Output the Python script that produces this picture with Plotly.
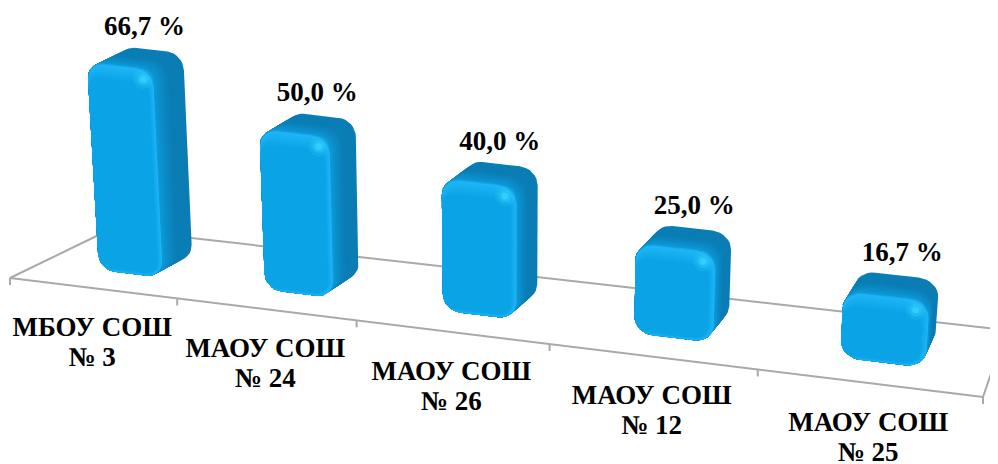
import numpy as np
import plotly.graph_objects as go

categories = ["МБОУ СОШ", "МАОУ СОШ", "МАОУ СОШ", "МАОУ СОШ", "МАОУ СОШ"]
school_numbers = ["№ 3", "№ 24", "№ 26", "№ 12", "№ 25"]
values = [66.7, 50.0, 40.0, 25.0, 16.7]
value_labels = ["66,7 %", "50,0 %", "40,0 %", "25,0 %", "16,7 %"]

# Floor corners of the 3D box as drawn on the page, and the vertical scale
C00, C10, C01, C11 = (10, 278), (983, 397), (111, 229), (1006, 330)
PX_PER_UNIT, AXIS_MIN = 2.82, -7.1
N = len(values)
K = 0.9564
BODY_MARGIN = 8  # the page's default body margin; the figure is sized to fit inside it
LIFT = 8         # bars and labels stand this far right of and below the plain floor projection

dx1, dy1 = C10[0] - C11[0], C10[1] - C11[1]
dx2, dy2 = C01[0] - C11[0], C01[1] - C11[1]
sx, sy = C00[0] - C10[0] + C11[0] - C01[0], C00[1] - C10[1] + C11[1] - C01[1]
det = dx1 * dy2 - dy1 * dx2
G = (sx * dy2 - sy * dx2) / det
H_ = (dx1 * sy - dy1 * sx) / det


def project(s, d, h=0.0, off=0.0):
    """(position along the category axis 0..1, depth 0..1, height px) to page."""
    s = np.asarray(s, float)
    d = np.asarray(d, float) * np.ones_like(s)
    h = np.asarray(h, float) * np.ones_like(s)
    u = K * s / (1 + (K - 1) * s)
    w = 1 + G * u + H_ * d
    x = (C00[0] + (C10[0] - C00[0] + G * C10[0]) * u + (C01[0] - C00[0] + H_ * C01[0]) * d) / w
    y = (C00[1] + (C10[1] - C00[1] + G * C10[1]) * u + (C01[1] - C00[1] + H_ * C01[1]) * d) / w
    return x + 0.00014 * (x - 500) * h + off, y - h + off


def rounded(s0, s1, h0, h1, rs, rh):
    t = np.linspace(0, np.pi / 2, 9)
    ss = np.concatenate([s1 - rs + rs * np.cos(t), s0 + rs - rs * np.sin(t),
                         s0 + rs - rs * np.cos(t), s1 - rs + rs * np.sin(t)])
    hh = np.concatenate([h1 - rh + rh * np.sin(t), h1 - rh + rh * np.cos(t),
                         h0 + rh - rh * np.sin(t), h0 + rh - rh * np.cos(t)])
    return ss, hh


def hull(x, y):
    pts = sorted(set(zip(np.round(x, 3).tolist(), np.round(y, 3).tolist())))

    def half(points):
        out = []
        for p in points:
            while len(out) > 1 and ((out[-1][0] - out[-2][0]) * (p[1] - out[-2][1])
                                    - (out[-1][1] - out[-2][1]) * (p[0] - out[-2][0])) <= 0:
                out.pop()
            out.append(p)
        return out[:-1]

    ring = half(pts) + half(pts[::-1])
    ring.append(ring[0])
    return [p[0] for p in ring], [p[1] for p in ring]


def mix(a, b, t):
    ca = [int(a[j:j + 2], 16) for j in (1, 3, 5)]
    cb = [int(b[j:j + 2], 16) for j in (1, 3, 5)]
    return "#%02x%02x%02x" % tuple(round(p + (q - p) * t) for p, q in zip(ca, cb))


fig = go.Figure()


def poly(x, y, color):
    fig.add_trace(go.Scatter(x=list(x), y=list(y), mode="lines", fill="toself", fillcolor=color,
                             line=dict(width=0, color=color), hoverinfo="skip", showlegend=False))


def line(x, y):
    fig.add_trace(go.Scatter(x=list(x), y=list(y), mode="lines", hoverinfo="skip", showlegend=False,
                             line=dict(color="#a9a9a9", width=2)))


# Floor of the chart
for pts in [((0, 1), (1, 1)), ((0, 0), (0, 1)), ((1, 0), (1, 1)), ((0, 0), (1, 0))]:
    x, y = project([pts[0][0], pts[1][0]], [pts[0][1], pts[1][1]])
    line(x, y)
for i in range(N + 1):
    x, y = project([i / N], [0])
    line([x[0], x[0]], [y[0], y[0] + 7])

CELL = 1 / N
WIDTH = 0.395 * CELL
D0, D1 = 0.40, 0.72
RS, RH = 0.019, 17

for i, v in enumerate(values):
    c = (i + 0.5) * CELL * 1.006 - 0.0125
    s0, s1 = c - WIDTH / 2, c + WIDTH / 2
    H = PX_PER_UNIT * (v - AXIS_MIN)

    ss, hh = rounded(s0, s1, 0, H, RS, RH)
    fx, fy = project(ss, D0, hh, LIFT)

    # Side and top: dark at the back, easing into the front face
    for t in np.linspace(0, 1, 14):
        d = D1 + (D0 + 0.015 - D1) * t
        col = mix("#0a7db5", "#0d9ada", max(0.0, (t - 0.45) / 0.55) ** 1.3)
        bx, by = project(ss, d, hh, LIFT)
        poly(*hull(np.r_[fx, bx], np.r_[fy, by]), col)

    # Front face: bright rim, then insets towards the flat face colour
    poly(fx, fy, "#15a8e8")
    for t in np.linspace(0, 1, 8):
        ins, inh = rounded(s0 + 0.0004, s1 - 0.006 * t, 3 * t,
                           H - 1 - 14 * t, RS * (1 - 0.3 * t), RH * (1 - 0.3 * t))
        ix, iy = project(ins, D0, inh, LIFT)
        poly(ix, iy, mix("#1db5f5", "#0aa3e6", t))

    # Specular spot on the upper right corner of the front face
    hx, hy = project([s1 - 0.012], [D0], [H - 11], LIFT)
    for size, op in [(20, 0.18), (13, 0.35), (7, 0.8)]:
        fig.add_trace(go.Scatter(x=hx, y=hy, mode="markers", hoverinfo="skip", showlegend=False,
                                 marker=dict(size=size, color="#35d2ff", opacity=op, line=dict(width=0))))

# Value labels above the bars
lx, ly = [], []
for i, v in enumerate(values):
    h = PX_PER_UNIT * (v - AXIS_MIN)
    x, _ = project([(i + 0.5) * CELL], [0.5], [h], LIFT)
    _, y = project([(i + 0.5) * CELL], [0.67], [h], LIFT)
    lx.append(x[0] + 5)
    ly.append(y[0] - 25)
fig.add_trace(go.Scatter(x=lx, y=ly, mode="text", text=[f"<b>{t}</b>" for t in value_labels],
                         textposition="middle center", hoverinfo="skip", showlegend=False, cliponaxis=False,
                         textfont=dict(family="Liberation Serif", size=27, color="#000000")))

# Category labels under the floor, two lines each
tx, ty = project([(i + 0.5) * CELL for i in range(N)], [0] * N, 0.0, LIFT)
for labels, dy in [(categories, 33), (school_numbers, 63)]:
    fig.add_trace(go.Scatter(x=tx - 8, y=ty + dy, mode="text", text=[f"<b>{t}</b>" for t in labels],
                             textposition="middle center", hoverinfo="skip", showlegend=False, cliponaxis=False,
                             textfont=dict(family="Liberation Serif", size=27, color="#000000")))

fig.update_layout(width=998 - BODY_MARGIN, height=464 - BODY_MARGIN, margin=dict(l=0, r=0, t=0, b=0),
                  showlegend=False, paper_bgcolor="#ffffff", plot_bgcolor="#ffffff")
fig.update_xaxes(visible=False, range=[BODY_MARGIN, 998])
fig.update_yaxes(visible=False, range=[464, BODY_MARGIN])
fig.write_html("out.html")
